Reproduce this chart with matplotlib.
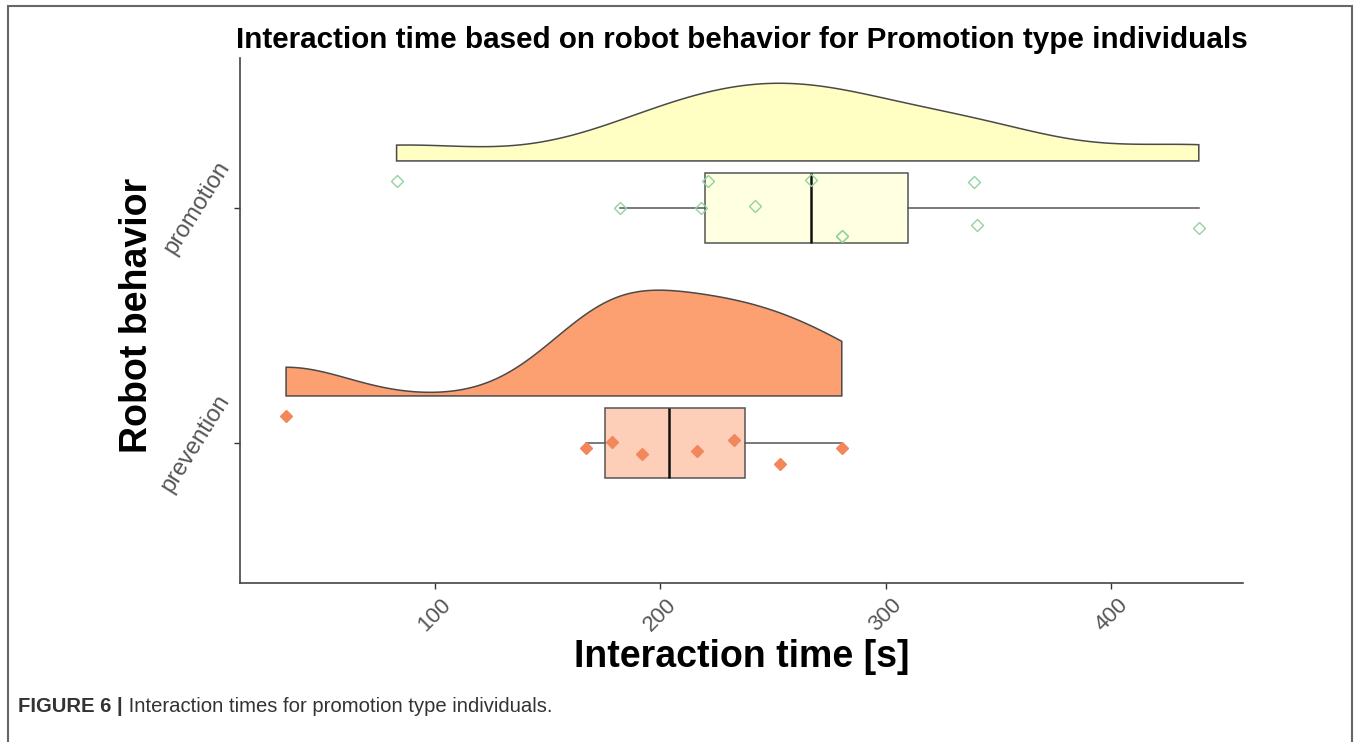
import numpy as np
import matplotlib
matplotlib.use("Agg")
import matplotlib.pyplot as plt
from matplotlib.patches import Rectangle, Polygon

# ---------------- data ----------------
categories = ["prevention", "promotion"]
promotion_times = [83.1, 182.2, 218.1, 221.2, 242.0, 266.8, 280.5, 280.5, 339.0, 340.4, 438.8]
promotion_jitter = [0.115, 0.0, 0.0, 0.115, 0.01, 0.117, -0.119, -0.119, 0.11, -0.072, -0.085]
prevention_times = [34.1, 167.1, 178.6, 191.9, 216.3, 232.7, 253.1, 280.5]
prevention_jitter = [0.115, -0.02, 0.006, -0.047, -0.033, 0.013, -0.091, -0.023]
x_ticks = [100, 200, 300, 400]
x_ticklabels = ["100", "200", "300", "400"]

title = "Interaction time based on robot behavior for Promotion type individuals"
xlabel = "Interaction time [s]"
ylabel = "Robot behavior"
caption_bold = "FIGURE 6 |"
caption_text = " Interaction times for promotion type individuals."

# ---------------- style ----------------
plt.rcParams["font.family"] = ["Liberation Sans", "DejaVu Sans"]
W, H = 1360, 742
fig = plt.figure(figsize=(W / 100, H / 100), dpi=100)
ax = fig.add_axes([240 / W, 1 - 583 / H, (1243 - 240) / W, (583 - 58) / H])

groups = [
    dict(pos=1, data=prevention_times, jit=prevention_jitter,
         dens_fc="#FCA072", box_fc="#FDCFB8", pt_fc="#F2875C", pt_ec="#F2875C", ms=6),
    dict(pos=2, data=promotion_times, jit=promotion_jitter,
         dens_fc="#FFFFC4", box_fc="#FFFFE2", pt_fc="none", pt_ec="#93D3A2", ms=6.5),
]


def nrd0(x):
    x = np.asarray(x, float)
    sd = np.std(x, ddof=1)
    q75, q25 = np.percentile(x, [75, 25])
    lo = min(sd, (q75 - q25) / 1.34)
    return 0.9 * lo * len(x) ** (-0.2)


def kde(x, grid):
    x = np.asarray(x, float)
    bw = nrd0(x)
    z = (grid[:, None] - x[None, :]) / bw
    return np.exp(-0.5 * z ** 2).sum(axis=1) / (len(x) * bw * np.sqrt(2 * np.pi))


dens = []
for g in groups:
    grid = np.linspace(min(g["data"]), max(g["data"]), 400)
    dens.append((grid, kde(g["data"], grid)))
dmax = max(d.max() for _, d in dens)

violin_width = 0.45
nudge = 0.2
for g, (grid, d) in zip(groups, dens):
    base = g["pos"] + nudge
    top = base + d / dmax * violin_width
    verts = np.vstack([
        np.column_stack([grid, top]),
        [[grid[-1], base], [grid[0], base]],
    ])
    ax.add_patch(Polygon(verts, closed=True, facecolor=g["dens_fc"],
                         edgecolor="#4a4a4a", linewidth=1.1, zorder=2))

# boxplots
for g in groups:
    ax.boxplot([g["data"]], positions=[g["pos"]], widths=0.3,
               orientation="horizontal", patch_artist=True,
               showfliers=False, showcaps=False, whis=1.5,
               boxprops=dict(facecolor=g["box_fc"], edgecolor="#555555", linewidth=1.1),
               whiskerprops=dict(color="#555555", linewidth=1.1),
               medianprops=dict(color="#111111", linewidth=1.8),
               zorder=3)

# jittered points
for g in groups:
    ys = np.array(g["jit"]) + g["pos"]
    ax.plot(g["data"], ys, linestyle="none", marker="D", markersize=g["ms"],
            markerfacecolor=g["pt_fc"], markeredgecolor=g["pt_ec"],
            markeredgewidth=1.0, zorder=4)

ax.set_xlim(13.67, 458.4)
ax.set_ylim(0.404, 2.638)
ax.set_yticks([1, 2])
ax.set_yticklabels(categories, rotation=58, va="center", ha="right",
                   color="#555555", fontsize=17)
ax.set_xticks(x_ticks)
ax.set_xticklabels(x_ticklabels, rotation=45, ha="center", va="top",
                   color="#555555", fontsize=16)
ax.tick_params(axis="both", length=4, width=1, color="#333333")
ax.tick_params(axis="x", pad=4)
ax.tick_params(axis="y", pad=0)
for s in ["top", "right"]:
    ax.spines[s].set_visible(False)
for s in ["left", "bottom"]:
    ax.spines[s].set_color("#444444")
    ax.spines[s].set_linewidth(1.2)
ax.set_facecolor("white")

ax.set_xlabel(xlabel, fontsize=27, fontweight="bold", labelpad=3)
ax.set_ylabel(ylabel, fontsize=27, fontweight="bold")
ax.yaxis.set_label_coords(-0.085, 0.51)

fig.text(741.5 / W, 1 - 40 / H, title, ha="center", va="center",
         fontsize=21.3, fontweight="bold")

# figure frame
fig.patches.append(Rectangle((8 / W, -0.05), (1352 - 8) / W, 1.05 - 6 / H,
                             transform=fig.transFigure, fill=False,
                             edgecolor="#666666", linewidth=1.5))

# caption
fig.canvas.draw()
r = fig.canvas.get_renderer()
t1 = fig.text(18 / W, 1 - 707 / H, caption_bold, ha="left", va="center",
              fontsize=14.6, fontweight="bold", color="#333333")
bb = t1.get_window_extent(renderer=r)
fig.text(bb.x1 / W, 1 - 707 / H, caption_text, ha="left", va="center",
         fontsize=14.6, color="#333333")

fig.savefig("out.png", dpi=100)
